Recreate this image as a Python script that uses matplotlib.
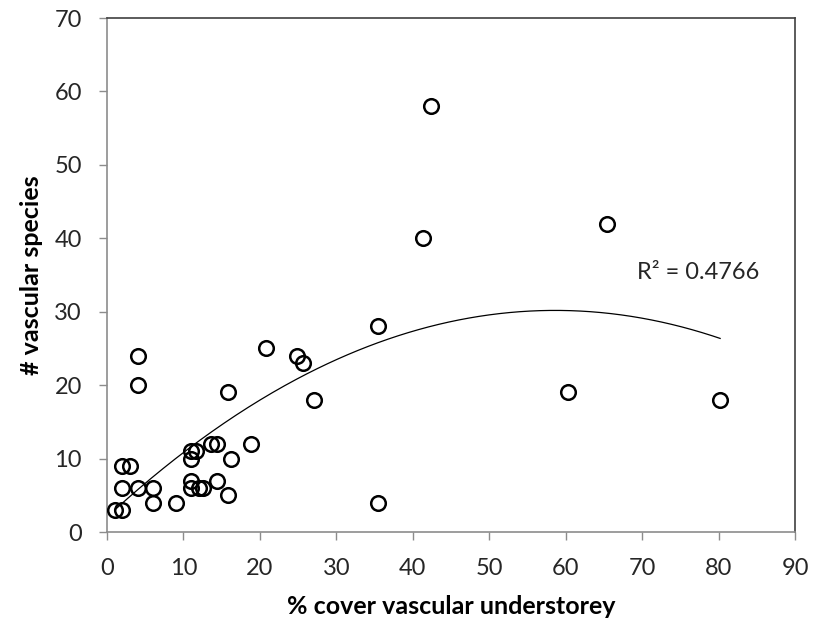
import numpy as np
import matplotlib
matplotlib.use("Agg")
import matplotlib.pyplot as plt

plt.rcParams['font.family'] = ['Lato', 'DejaVu Sans']

# % cover of vascular understorey and number of vascular species per plot
cover = [1, 2, 2, 2, 3, 4, 4, 4, 6, 6, 9, 11, 11, 11, 11, 12, 11.7, 12.6,
         13.6, 14.4, 14.4, 15.8, 15.8, 16.2, 18.9, 20.8, 24.9, 25.6, 27.1,
         35.5, 35.5, 41.3, 42.4, 60.3, 65.4, 80.2]
species = [3, 3, 6, 9, 9, 6, 20, 24, 6, 4, 4, 11, 10, 7, 6, 6, 11, 6,
           12, 12, 7, 19, 5, 10, 12, 25, 24, 23, 18,
           28, 4, 40, 58, 19, 42, 18]

x_ticks = list(range(0, 91, 10))
y_ticks = list(range(0, 71, 10))

fig = plt.figure(figsize=(8.25, 6.21), dpi=100)
ax = fig.add_axes([0.1297, 0.1433, 0.8340, 0.8277])

ax.plot(cover, species, linestyle='none', marker='o', markersize=10.5,
        markerfacecolor='none', markeredgecolor='black', markeredgewidth=1.8,
        zorder=3)

# second-order polynomial trendline
x = np.array(cover, dtype=float)
y = np.array(species, dtype=float)
coef = np.polyfit(x, y, 2)
xs = np.linspace(x.min(), x.max(), 300)
ax.plot(xs, np.polyval(coef, xs), color='black', linewidth=0.9, zorder=2)

ax.text(77.3, 35.3, "R² = 0.4766", fontsize=17, color='#262626',
        ha='center', va='center')

ax.set_xlim(0, 90)
ax.set_ylim(0, 70)
ax.set_xticks(x_ticks)
ax.set_yticks(y_ticks)
ax.tick_params(axis='both', direction='out', length=6, width=1,
               color='#8c8c8c', labelsize=17, labelcolor='#262626')
ax.tick_params(axis='x', pad=13)
ax.tick_params(axis='y', pad=12)

for name, sp in ax.spines.items():
    sp.set_linewidth(1.2)
    sp.set_color('#8c8c8c' if name in ('left', 'bottom') else '#404040')

ax.set_xlabel("% cover vascular understorey", fontsize=18, fontweight='bold')
ax.set_ylabel("# vascular species", fontsize=18, fontweight='bold')
ax.xaxis.set_label_coords(0.5, -0.122)
ax.yaxis.set_label_coords(-0.093, 0.5)

fig.savefig("out.png", dpi=100)
